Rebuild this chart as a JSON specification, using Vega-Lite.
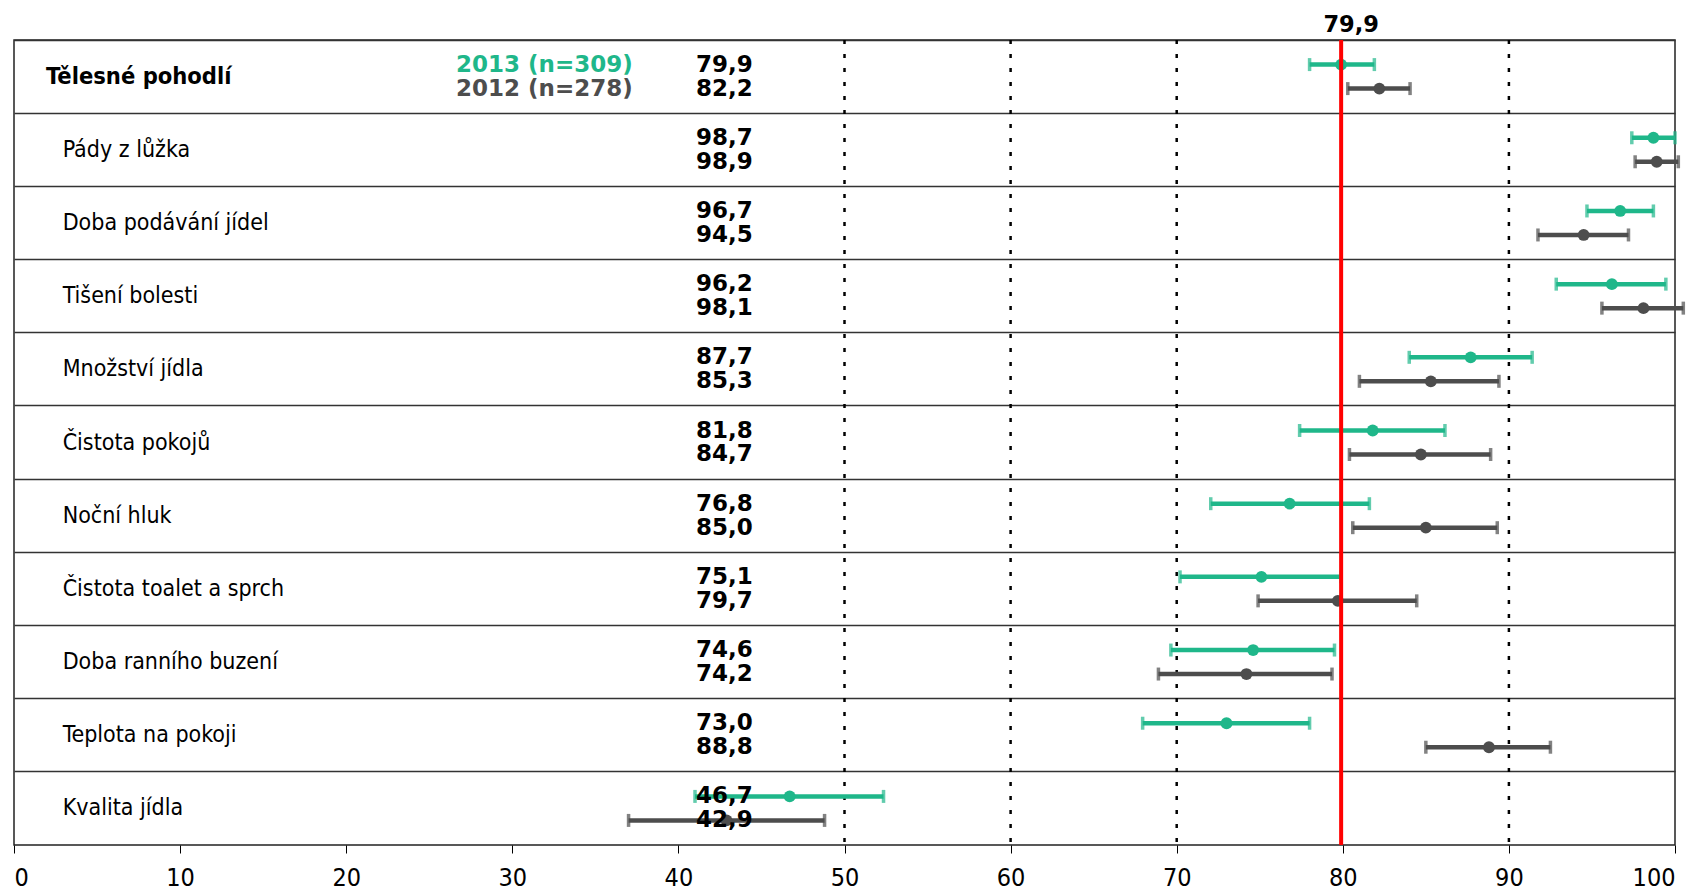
{
  "$schema": "https://vega.github.io/schema/vega-lite/v6.json",
  "width": 1661,
  "height": 805,
  "autosize": {"type": "none"},
  "padding": {"left": 14, "top": 40, "right": 21, "bottom": 46},
  "config": {
    "view": {"stroke": "#222222", "strokeWidth": 1.5},
    "locale": {"number": {"decimal": ",", "thousands": " ", "grouping": [3], "currency": ["", " Kč"]}},
    "font": "DejaVu Sans Condensed"
  },
  "datasets": {
    "rows": [
      {"item": "Tělesné pohodlí", "year": "2013", "mean": 79.9, "lo": 78.0, "hi": 81.9},
      {"item": "Tělesné pohodlí", "year": "2012", "mean": 82.2, "lo": 80.3, "hi": 84.05},
      {"item": "Pády z lůžka", "year": "2013", "mean": 98.7, "lo": 97.4, "hi": 100.0},
      {"item": "Pády z lůžka", "year": "2012", "mean": 98.9, "lo": 97.6, "hi": 100.2},
      {"item": "Doba podávání jídel", "year": "2013", "mean": 96.7, "lo": 94.7, "hi": 98.7},
      {"item": "Doba podávání jídel", "year": "2012", "mean": 94.5, "lo": 91.75, "hi": 97.2},
      {"item": "Tišení bolesti", "year": "2013", "mean": 96.2, "lo": 92.85, "hi": 99.45},
      {"item": "Tišení bolesti", "year": "2012", "mean": 98.1, "lo": 95.6, "hi": 100.5},
      {"item": "Množství jídla", "year": "2013", "mean": 87.7, "lo": 84.0, "hi": 91.4},
      {"item": "Množství jídla", "year": "2012", "mean": 85.3, "lo": 81.0, "hi": 89.4},
      {"item": "Čistota pokojů", "year": "2013", "mean": 81.8, "lo": 77.4, "hi": 86.15},
      {"item": "Čistota pokojů", "year": "2012", "mean": 84.7, "lo": 80.4, "hi": 88.9},
      {"item": "Noční hluk", "year": "2013", "mean": 76.8, "lo": 72.05, "hi": 81.6},
      {"item": "Noční hluk", "year": "2012", "mean": 85.0, "lo": 80.6, "hi": 89.3},
      {"item": "Čistota toalet a sprch", "year": "2013", "mean": 75.1, "lo": 70.2, "hi": 79.9},
      {"item": "Čistota toalet a sprch", "year": "2012", "mean": 79.7, "lo": 74.9, "hi": 84.45},
      {"item": "Doba ranního buzení", "year": "2013", "mean": 74.6, "lo": 69.65, "hi": 79.5},
      {"item": "Doba ranního buzení", "year": "2012", "mean": 74.2, "lo": 68.9, "hi": 79.35},
      {"item": "Teplota na pokoji", "year": "2013", "mean": 73.0, "lo": 67.95, "hi": 78.0},
      {"item": "Teplota na pokoji", "year": "2012", "mean": 88.8, "lo": 85.0, "hi": 92.5},
      {"item": "Kvalita jídla", "year": "2013", "mean": 46.7, "lo": 41.0, "hi": 52.35},
      {"item": "Kvalita jídla", "year": "2012", "mean": 42.9, "lo": 37.0, "hi": 48.8}
    ],
    "legend": [
      {"item": "Tělesné pohodlí", "year": "2013", "label": "2013 (n=309)"},
      {"item": "Tělesné pohodlí", "year": "2012", "label": "2012 (n=278)"}
    ],
    "refs": [{"v": 50}, {"v": 60}, {"v": 70}, {"v": 90}],
    "overall": [{"item": "Tělesné pohodlí", "v": 79.9}]
  },
  "encoding": {
    "y": {
      "field": "item", "type": "nominal", "sort": null,
      "scale": {"type": "band", "paddingInner": 0, "paddingOuter": 0},
      "axis": {"title": null, "labels": false, "ticks": false, "domain": false, "grid": true, "bandPosition": 0, "gridColor": "#333333", "gridWidth": 1.5}
    }
  },
  "layer": [
    {
      "data": {"name": "refs"},
      "mark": {"type": "rule", "color": "#000000", "strokeWidth": 2.5, "strokeDash": [4, 10]},
      "encoding": {
        "y": null,
        "x": {"field": "v", "type": "quantitative",
          "scale": {"domain": [0, 100], "nice": false, "zero": true},
          "axis": {"title": null, "values": [0, 10, 20, 30, 40, 50, 60, 70, 80, 90, 100], "grid": false, "domain": false, "tickSize": 8, "tickColor": "#000000", "tickWidth": 1, "labelFontSize": 25, "labelColor": "#000000", "labelPadding": 12, "labelFont": "DejaVu Sans Condensed"}
        }
      }
    },
    {
      "data": {"name": "rows"},
      "mark": {"type": "rule", "strokeWidth": 4.5},
      "encoding": {
        "x": {"field": "lo", "type": "quantitative"},
        "x2": {"field": "hi"},
        "yOffset": {"field": "year", "type": "nominal", "sort": ["2013", "2012"], "scale": {"paddingInner": 0, "paddingOuter": 0.525}},
        "color": {"field": "year", "type": "nominal", "scale": {"domain": ["2013", "2012"], "range": ["#1fb78a", "#4d4d4d"]}, "legend": null}
      }
    },
    {
      "data": {"name": "rows"},
      "mark": {"type": "tick", "orient": "vertical", "thickness": 3.5, "size": 13},
      "encoding": {
        "x": {"field": "lo", "type": "quantitative"},
        "yOffset": {"field": "year", "type": "nominal", "sort": ["2013", "2012"]},
        "color": {"field": "year", "type": "nominal"}
      }
    },
    {
      "data": {"name": "rows"},
      "mark": {"type": "tick", "orient": "vertical", "thickness": 3.5, "size": 13},
      "encoding": {
        "x": {"field": "hi", "type": "quantitative"},
        "yOffset": {"field": "year", "type": "nominal", "sort": ["2013", "2012"]},
        "color": {"field": "year", "type": "nominal"}
      }
    },
    {
      "data": {"name": "rows"},
      "mark": {"type": "circle", "size": 140, "opacity": 1},
      "encoding": {
        "x": {"field": "mean", "type": "quantitative"},
        "yOffset": {"field": "year", "type": "nominal", "sort": ["2013", "2012"]},
        "color": {"field": "year", "type": "nominal"}
      }
    },
    {
      "data": {"name": "overall"},
      "mark": {"type": "rule", "color": "#ff0000", "strokeWidth": 4},
      "encoding": {
        "y": null,
        "x": {"field": "v", "type": "quantitative"}
      }
    },
    {
      "data": {"name": "overall"},
      "mark": {"type": "text", "font": "DejaVu Sans", "fontWeight": "bold", "fontSize": 22.5, "align": "center", "baseline": "alphabetic", "dx": 10, "dy": -45, "color": "#000000"},
      "encoding": {
        "x": {"field": "v", "type": "quantitative"},
        "text": {"field": "v", "type": "quantitative", "format": ".1f"}
      }
    },
    {
      "data": {"name": "rows"},
      "mark": {"type": "text", "font": "DejaVu Sans", "fontWeight": "bold", "fontSize": 23, "align": "right", "baseline": "middle", "color": "#000000"},
      "encoding": {
        "x": {"datum": 44.48},
        "yOffset": {"field": "year", "type": "nominal", "sort": ["2013", "2012"]},
        "text": {"field": "mean", "type": "quantitative", "format": ".1f"}
      }
    },
    {
      "data": {"name": "legend"},
      "mark": {"type": "text", "font": "DejaVu Sans", "fontWeight": "bold", "fontSize": 23, "align": "right", "baseline": "middle"},
      "encoding": {
        "x": {"datum": 37.25},
        "yOffset": {"field": "year", "type": "nominal", "sort": ["2013", "2012"]},
        "text": {"field": "label"},
        "color": {"field": "year", "type": "nominal"}
      }
    },
    {
      "data": {"name": "rows"},
      "transform": [{"filter": "datum.year == '2013' && datum.item == 'Tělesné pohodlí'"}],
      "mark": {"type": "text", "font": "DejaVu Sans Condensed", "fontWeight": "bold", "fontSize": 23.5, "align": "left", "baseline": "middle", "color": "#000000"},
      "encoding": {
        "x": {"datum": 1.93},
        "text": {"field": "item"}
      }
    },
    {
      "data": {"name": "rows"},
      "transform": [{"filter": "datum.year == '2013' && datum.item != 'Tělesné pohodlí'"}],
      "mark": {"type": "text", "font": "DejaVu Sans Condensed", "fontSize": 23, "align": "left", "baseline": "middle", "color": "#000000"},
      "encoding": {
        "x": {"datum": 2.93},
        "text": {"field": "item"}
      }
    }
  ]
}
